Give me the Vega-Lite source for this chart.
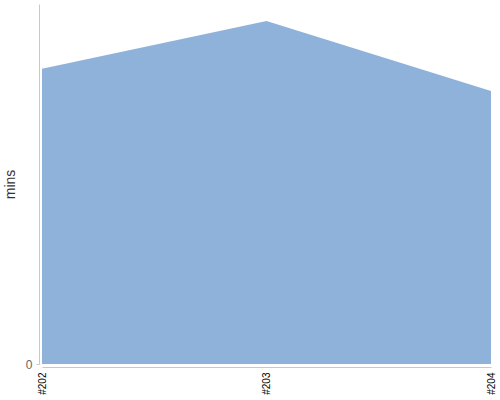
{
  "$schema": "https://vega.github.io/schema/vega-lite/v6.json",
  "autosize": "none",
  "width": 449,
  "height": 360,
  "padding": {"left": 42, "top": 4, "right": 9, "bottom": 36},
  "config": {
    "view": {"stroke": "transparent"},
    "axis": {"labelFont": "Liberation Sans", "titleFont": "Liberation Sans", "grid": false}
  },
  "data": {
    "values": [
      {"build": "#202", "mins": 82},
      {"build": "#203", "mins": 95.3},
      {"build": "#204", "mins": 75.8}
    ]
  },
  "mark": {"type": "area", "color": "#8fb2db", "opacity": 1},
  "encoding": {
    "x": {
      "field": "build", "type": "ordinal",
      "scale": {"type": "point", "padding": 0},
      "axis": {
        "title": null, "labelAngle": -90, "labelFontSize": 10, "labelColor": "#000",
        "domainColor": "#c8c8c8", "ticks": false, "offset": 3, "labelPadding": 5
      }
    },
    "y": {
      "field": "mins", "type": "quantitative",
      "scale": {"domain": [0, 100], "nice": false},
      "axis": {
        "title": "mins", "titleFontSize": 14, "titleFontWeight": "normal", "titleColor": "#333",
        "titlePadding": 8, "values": [0], "labelFontSize": 12, "labelColor": "#666",
        "labelPadding": 4, "domainColor": "#c8c8c8", "tickColor": "#c8c8c8", "tickSize": 3, "offset": 3
      }
    }
  }
}
